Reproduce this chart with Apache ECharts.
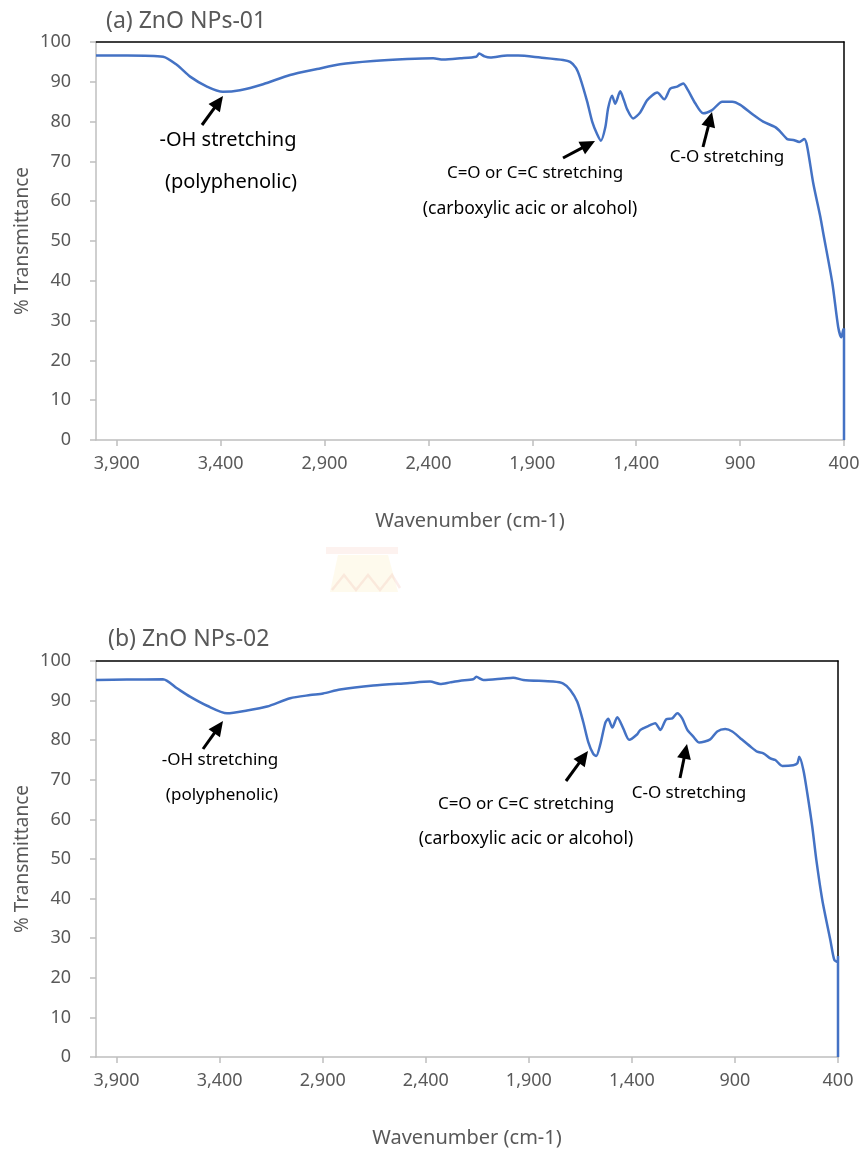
<!DOCTYPE html>
<html>
<head>
<meta charset="utf-8">
<script src="https://cdn.jsdelivr.net/npm/echarts@6/dist/echarts.min.js"></script>
<style>
html,body{margin:0;padding:0;background:#fff;}
#c{width:865px;height:1153px;}
</style>
</head>
<body>
<div id="c"></div>
<script>
// ---- data ----
const xTicks = [3900, 3400, 2900, 2400, 1900, 1400, 900, 400];
const yTicks = [0, 10, 20, 30, 40, 50, 60, 70, 80, 90, 100];
const titles = ['(a) ZnO NPs-01', '(b) ZnO NPs-02'];

// [wavenumber cm-1, % transmittance]
const spectrumA = [
  [4000,96.6],[3850,96.6],[3677,96.3],[3610,94.2],[3547,91.3],[3466,88.8],[3389,87.5],[3307,87.9],
  [3196,89.4],[3066,91.7],[2936,93.2],[2825,94.4],[2666,95.2],[2503,95.7],[2377,95.9],[2329,95.6],
  [2247,95.9],[2170,96.3],[2156,97.1],[2130,96.4],[2103,96.1],[2021,96.6],[1968,96.6],[1862,96.1],
  [1752,95.5],[1718,95.0],[1690,93.5],[1670,91.0],[1636,85.0],[1612,80.0],[1588,76.8],[1570,75.2],
  [1549,78.5],[1535,83.4],[1516,86.5],[1501,84.5],[1477,87.6],[1460,85.5],[1443,83.0],[1415,80.8],
  [1381,82.3],[1347,85.4],[1299,87.3],[1265,85.6],[1236,88.3],[1203,88.8],[1174,89.6],[1151,87.9],
  [1116,84.6],[1078,82.1],[1035,82.9],[986,85.0],[938,85.0],[899,84.2],[837,81.7],[789,80.0],
  [731,78.6],[707,77.5],[673,75.6],[644,75.4],[615,74.9],[591,75.6],[577,73.7],[548,64.5],
  [514,56.1],[500,52.0],[456,39.4],[428,28.4],[413,25.8],[404,27.6],[400,28.0],[400,0]
];
const spectrumB = [
  [4000,95.2],[3850,95.3],[3675,95.4],[3607,93.1],[3544,91.0],[3461,88.7],[3364,86.8],[3267,87.5],
  [3170,88.5],[3058,90.6],[2961,91.4],[2898,91.8],[2816,92.8],[2655,93.8],[2490,94.4],[2379,94.8],
  [2330,94.2],[2282,94.6],[2233,95.0],[2170,95.4],[2155,96.0],[2121,95.2],[2024,95.6],[1976,95.8],
  [1927,95.2],[1782,94.8],[1733,94.3],[1699,92.7],[1665,89.7],[1636,84.6],[1612,79.6],[1588,76.6],
  [1573,76.0],[1554,78.8],[1529,84.4],[1515,85.4],[1495,83.2],[1471,85.8],[1442,83.0],[1413,80.1],
  [1374,81.5],[1359,82.6],[1311,83.8],[1287,84.3],[1262,82.6],[1233,85.3],[1204,85.5],[1180,86.8],
  [1156,85.5],[1131,82.6],[1102,80.9],[1073,79.4],[1020,80.2],[986,82.2],[947,82.8],[913,82.2],
  [874,80.5],[825,78.4],[792,77.1],[762,76.7],[728,75.4],[704,75.0],[670,73.5],[617,73.7],
  [597,74.2],[588,75.8],[568,72.5],[549,66.6],[525,58.2],[505,49.7],[476,39.6],[437,29.5],
  [418,24.5],[403,24.0],[400,25.5],[400,0]
];
const series = [spectrumA, spectrumB];

// annotations: text lines and arrows (pixel positions)
const notesA = [
  {text:'-OH stretching', x:228, y:140, size:20},
  {text:'(polyphenolic)', x:231, y:182, size:20},
  {text:'C=O or C=C stretching', x:535, y:173, size:17},
  {text:'(carboxylic acic or alcohol)', x:530, y:209, size:17.5},
  {text:'C-O stretching', x:727, y:157, size:17}
];
const arrowsA = [[202,125,223,96],[563,158,595,141],[703,147,712,112]];
const notesB = [
  {text:'-OH stretching', x:220, y:760, size:17},
  {text:'(polyphenolic)', x:222, y:795, size:17},
  {text:'C=O or C=C stretching', x:526, y:804, size:17},
  {text:'(carboxylic acic or alcohol)', x:526, y:839, size:17.5},
  {text:'C-O stretching', x:689, y:793, size:17}
];
const arrowsB = [[203,749,223,721],[566,781,588,751],[680,778,687,744]];

// ---- chart ----
const FONT = 'Noto Sans';
const GRAY = '#595959';
const chart = echarts.init(document.getElementById('c'), null, {renderer:'canvas'});

const grids = [
  {left:96, top:42, width:748, height:398},
  {left:96, top:661, width:742, height:396}
];

function fmt(v){ return String(v).replace(/\B(?=(\d{3})+(?!\d))/g, ','); }

const xAxes = [], yAxes = [], ser = [];
grids.forEach((g, i) => {
  xAxes.push({
    gridIndex:i, type:'value', min:400, max:4000, inverse:true, position:'bottom',
    name:'Wavenumber (cm-1)', nameLocation:'middle', nameGap:71, nameMoveOverlap:false,
    nameTextStyle:{color:GRAY, fontSize:20, fontFamily:FONT},
    axisLine:{show:true, onZero:false, lineStyle:{color:'#BFBFBF', width:1.5}},
    axisTick:{show:true, length:6, lineStyle:{color:'#BFBFBF', width:1.5}, customValues:xTicks},
    axisLabel:{color:GRAY, fontSize:18, fontFamily:FONT, margin:15, customValues:xTicks, formatter:fmt},
    splitLine:{show:false}
  });
  xAxes.push({
    gridIndex:i, type:'value', min:400, max:4000, inverse:true, position:'top',
    axisLine:{show:true, onZero:false, lineStyle:{color:'#000', width:1.5}},
    axisTick:{show:false}, axisLabel:{show:false}, splitLine:{show:false}
  });
  yAxes.push({
    gridIndex:i, type:'value', min:0, max:100, interval:10, position:'left',
    name:'% Transmittance', nameLocation:'middle', nameGap:64, nameRotate:90, nameMoveOverlap:false,
    nameTextStyle:{color:GRAY, fontSize:19, fontFamily:FONT},
    axisLine:{show:true, onZero:false, lineStyle:{color:'#BFBFBF', width:1.5}},
    axisTick:{show:true, length:6, lineStyle:{color:'#BFBFBF', width:1.5}},
    axisLabel:{color:GRAY, fontSize:18, fontFamily:FONT, margin:25},
    splitLine:{show:false}
  });
  yAxes.push({
    gridIndex:i, type:'value', min:0, max:100, interval:10, position:'right',
    axisLine:{show:true, onZero:false, lineStyle:{color:'#000', width:1.5}},
    axisTick:{show:false}, axisLabel:{show:false}, splitLine:{show:false}
  });
  ser.push({
    type:'line', xAxisIndex:i*2, yAxisIndex:i*2, data:series[i],
    showSymbol:false, smooth:0.25, clip:false,
    lineStyle:{color:'#4472C4', width:2.5}, z:5
  });
});

function arrowGraphics(list){
  const out = [];
  list.forEach(a => {
    const [tx,ty,px,py] = a;
    const dx = px-tx, dy = py-ty, len = Math.hypot(dx,dy);
    const ux = dx/len, uy = dy/len, nx = -uy, ny = ux;
    const L = 15, W = 7;
    const bx = px-ux*L, by = py-uy*L;
    out.push({type:'line', shape:{x1:tx, y1:ty, x2:bx+ux*2, y2:by+uy*2}, style:{stroke:'#000', lineWidth:3}, z:10});
    out.push({type:'polygon', shape:{points:[[px,py],[bx+nx*W,by+ny*W],[bx-nx*W,by-ny*W]]}, style:{fill:'#000'}, z:10});
  });
  return out;
}
function noteGraphics(list){
  return list.map(n => ({
    type:'text', x:n.x, y:n.y, z:10,
    style:{text:n.text, fill:'#000', font:n.size+'px "'+FONT+'"', textAlign:'center', textVerticalAlign:'middle'}
  }));
}

// faint watermark logo between panels
const watermark = [
  {type:'rect', shape:{x:326, y:547, width:72, height:7}, style:{fill:'rgba(245,195,180,0.22)'}, z:0},
  {type:'polygon', shape:{points:[[338,555],[388,555],[398,592],[330,592]]}, style:{fill:'rgba(252,236,185,0.25)'}, z:0},
  {type:'polyline', shape:{points:[[332,590],[344,575],[356,590],[368,575],[380,590],[392,575],[400,588]]}, style:{stroke:'rgba(240,185,170,0.25)', lineWidth:2.5, fill:null}, z:0}
];

const option = {
  backgroundColor:'#fff',
  animation:false,
  title:[
    {text:titles[0], left:101, top:5, textStyle:{color:GRAY, fontSize:23, fontWeight:'normal', fontFamily:FONT}},
    {text:titles[1], left:103, top:623, textStyle:{color:GRAY, fontSize:23, fontWeight:'normal', fontFamily:FONT}}
  ],
  grid:grids,
  xAxis:xAxes,
  yAxis:yAxes,
  series:ser,
  graphic:[].concat(watermark, arrowGraphics(arrowsA), arrowGraphics(arrowsB), noteGraphics(notesA), noteGraphics(notesB))
};
chart.setOption(option);
</script>
</body>
</html>
